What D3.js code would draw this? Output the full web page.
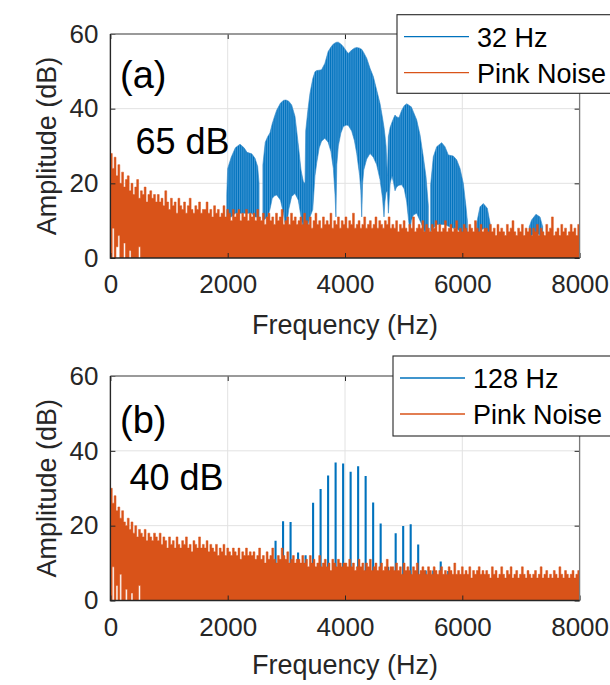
<!DOCTYPE html>
<html>
<head>
<meta charset="utf-8">
<script src="https://cdn.jsdelivr.net/npm/d3@7"></script>
<style>
  body { margin: 0; background: #fff; }
  text { font-family: "Liberation Sans", Arial, Helvetica, sans-serif; }
</style>
</head>
<body>
<svg id="chart" width="610" height="685"></svg>
<script>
// ---------------- DATA ----------------
const xTicks = [0, 2000, 4000, 6000, 8000];
const yTicks = [0, 20, 40, 60];
const legendA = ["32 Hz", "Pink Noise"];
const legendB = ["128 Hz", "Pink Noise"];
const panelTags = ["(a)", "(b)"];
const levelTags = ["65 dB", "40 dB"];
const noiseBinHz = 32;     // width of one pink-noise frequency bin
const harmonicHz = 32;     // spacing of the 32 Hz harmonics (stripe period)

// Pink noise amplitude (dB) per 32 Hz bin, panel (a)
const pinkNoiseA = [
  28,24,27,22,25,20,23,19,21,22,18,20,17,19,21,16,18,17,19,15,17,18,16,17,15,
  17,15,16,14,18,15,13,16,14,15,12,16,14,13,15,12,14,16,13,12,14,13,15,12,13,
  13,15,12,13,11,14,12,13,11,12,14,11,13,12,10,13,11,12,13,10,12,11,13,10,12,
  11,12,10,13,11,10,12,9,11,12,10,11,9,12,10,11,13,9,10,11,9,12,10,11,9,
  10,11,9,12,10,9,11,8,10,12,9,10,8,11,9,10,9,12,8,10,9,11,8,10,9,
  11,8,10,9,12,8,9,10,8,9,11,8,9,10,8,9,11,8,10,9,8,10,9,11,8,
  9,8,10,7,9,8,10,8,7,9,8,11,7,8,9,8,10,7,9,8,7,9,8,10,7,
  9,7,8,10,7,8,9,7,8,10,7,8,7,9,8,7,9,8,7,10,8,7,9,7,8,
  8,7,9,7,8,6,9,7,8,7,6,9,7,8,10,7,6,8,7,9,6,8,7,8,6,
  8,7,9,6,8,7,6,9,7,8,11,6,7,8,6,9,7,8,6,7,9,7,8,6,9
];
// lowest level reached inside the first bins (white gaps near 0 Hz), panel (a)
const pinkNoiseLowA = [0,8,0,3,6,0,0,4,0,0,2,0,0,0,0,3];

// Pink noise amplitude (dB) per 32 Hz bin, panel (b)
const pinkNoiseB = [
  30,26,28,24,25,22,24,21,20,22,19,21,18,20,17,19,18,17,19,16,18,17,16,18,17,
  16,18,15,17,16,14,17,15,16,14,17,15,14,16,15,17,14,15,13,16,15,14,17,14,15,
  14,16,13,15,14,13,15,12,14,13,15,12,14,13,12,14,13,12,14,11,13,12,14,12,13,
  12,13,11,12,14,11,12,10,13,11,12,14,11,10,12,11,14,12,11,13,10,11,12,10,11,
  11,10,12,10,11,9,12,10,11,9,10,12,9,10,11,9,10,8,11,10,9,11,10,9,10,
  10,9,11,9,10,8,9,11,9,10,8,10,9,11,8,9,10,8,9,10,8,9,11,8,9,
  9,8,10,8,9,7,10,8,9,8,7,9,8,10,7,8,9,8,7,9,8,7,9,8,7,
  8,9,7,8,7,9,8,7,10,7,8,7,9,7,8,7,9,6,8,7,8,9,7,8,7,
  8,7,6,9,7,8,6,7,9,7,6,8,7,9,6,7,8,6,7,9,7,6,8,7,6,
  7,8,6,7,9,6,7,8,6,7,6,8,7,6,9,7,6,8,7,6,7,8,6,7,8
];
const pinkNoiseLowB = [0,9,0,4,0,7,0,0,3,0,0,2,0,0,0,4];

// 32 Hz tone, panel (a): [frequency Hz, upper envelope dB, lower envelope dB]; null = gap
const tone32 = [
  [1984,17,11],[2000,24,11],[2060,27,11],[2130,29.5,12],[2210,30.5,12],[2280,29.5,12],
  [2330,28.3,12],[2410,27.9,12],[2466,26.7,11],[2511,24.5,11],[2535,20,10], null,
  [2600,25,10],[2640,31,10.5],[2682,32.5,11],[2720,33.5,13],[2760,36,16],[2800,38,16.7],
  [2835,39.6,16.9],[2900,41.5,15.5],[2950,42.2,12],[2980,42.3,9],[2995,42.3,8],[3010,42.2,9],
  [3040,42,13],[3091,41,16.5],[3148,37.9,17.3],[3204,30.3,15.5],[3250,23.6,11],[3290,20.4,8],[3318,20,6],
  [3330,34,6],[3370,40,9],[3403,44.1,11],[3450,48,13],[3488,49.9,22],[3517,50.2,25.4],
  [3560,50.3,29.5],[3600,50.4,31.3],[3656,52.1,32.1],[3713,55.3,31],[3760,56.5,28.5],[3801,57.3,24],
  [3830,57.6,17],[3845,57.7,11],[3860,57.8,25],[3886,57.8,30],[3930,57.3,33.5],[3972,56.6,35.2],
  [4020,55.5,35.6],[4057,54.8,35.5],[4114,55.7,34],[4160,56.2,31.5],[4200,56.4,28],[4250,56.2,22],
  [4270,56,18],[4285,55.9,11],[4300,55.5,20],[4320,55,23.6],[4370,53.5,26.5],[4427,50.8,28],
  [4483,48.6,27],[4540,45,25],[4597,41.4,21],[4640,37.5,16],[4665,35,11],[4680,33,15],
  [4700,30,17.5],[4722,22,18],
  [4740,32.5,12],[4770,35,20],[4800,36.3,22],[4830,37.5,20],[4853,38.3,18],[4880,37.8,19],
  [4920,37.6,19.5],[4967,39.6,19.6],[5010,40.8,18.5],[5052,41.3,15],[5085,41,10],[5108,40.7,7],
  [5130,40.5,10],[5165,39.2,11.5],[5222,37,12],[5279,33,10],[5335,27.1,8],[5381,21.8,6],[5421,14,4], null,
  [5460,19.6,7],[5506,27.1,8],[5563,29.8,9],[5648,30.9,9],[5705,29.8,9],[5762,27.6,8.5],
  [5847,27.3,8],[5904,26.3,8],[5961,24,7],[6017,20,6],[6063,13.7,5],[6086,10,4], null,
  [6245,9.3,5],[6302,13.7,7],[6358,14.6,8],[6427,13.3,7],[6484,8.4,5], null,
  [7142,8.4,5],[7182,10.2,6],[7256,11.7,7],[7325,11,6],[7370,8.4,5]
];

// 128 Hz tone, panel (b): harmonic frequencies and peak amplitudes
const tone128Freq = [2688,2816,2944,3072,3200,3328,3456,3584,3712,3840,3968,4096,4224,
                     4352,4480,4608,4736,4864,4992,5120,5248,5376,5504,5632,5760];
const tone128Amp  = [10.8,16.0,21.2,21.0,12.8,12.1,26.1,29.8,33.4,36.9,36.6,34.4,35.9,
                     33.3,26.2,20.6,9,18.0,19.9,20.4,15.0,8,8,10.4,7.9];

// ---------------- DRAWING ----------------
const BLUE = "#0072BD", ORANGE = "#D95319", AXIS = "#262626";
const svg = d3.select("#chart");
const defs = svg.append("defs");

function drawPanel(o) {
  const x = d3.scaleLinear().domain([0, 8000]).range([110.4, 579.6]);
  const y = d3.scaleLinear().domain([0, 60]).range([o.bottom, o.top]);
  const [xl, xr] = x.range();

  defs.append("clipPath").attr("id", "clip" + o.id).append("rect")
    .attr("x", xl).attr("y", o.top).attr("width", xr - xl).attr("height", o.bottom - o.top);

  // grid
  const grid = svg.append("g").attr("stroke", "#e2e2e2").attr("stroke-width", 1);
  grid.selectAll("line.gx").data(xTicks.filter(t => t > 0 && t < 8000)).join("line")
    .attr("class", "gx").attr("x1", d => x(d)).attr("x2", d => x(d))
    .attr("y1", o.top).attr("y2", o.bottom);
  grid.selectAll("line.gy").data(yTicks.filter(t => t > 0 && t < 60)).join("line")
    .attr("class", "gy").attr("x1", xl).attr("x2", xr)
    .attr("y1", d => y(d)).attr("y2", d => y(d));

  const plot = svg.append("g").attr("clip-path", `url(#clip${o.id})`);

  // tone (blue)
  if (o.tone) {
    const pw = x(harmonicHz) - x(0);
    const pat = defs.append("pattern").attr("id", "stripe" + o.id)
      .attr("patternUnits", "userSpaceOnUse").attr("x", xl).attr("y", 0)
      .attr("width", pw).attr("height", 20);
    pat.append("rect").attr("width", pw).attr("height", 20).attr("fill", BLUE);
    pat.append("rect").attr("x", pw * 0.55).attr("width", pw * 0.32).attr("height", 20).attr("fill", "#64ABE2");
    const area = d3.area()
      .defined(d => d !== null)
      .x(d => x(d[0])).y0(d => y(d[2])).y1(d => y(d[1]));
    plot.append("path").datum(o.tone).attr("d", area)
      .attr("fill", `url(#stripe${o.id})`).attr("stroke", "#2f86c8").attr("stroke-width", 0.6);
  }
  if (o.spikeF) {
    plot.append("g").selectAll("line").data(o.spikeF).join("line")
      .attr("x1", d => x(d)).attr("x2", d => x(d))
      .attr("y1", y(0)).attr("y2", (d, i) => y(o.spikeA[i]))
      .attr("stroke", BLUE).attr("stroke-width", 2.1);
  }

  // pink noise (orange) as one stepped area, no seams between bins
  const noisePts = o.noise.map((v, i) => [i * noiseBinHz, v, o.low[i] || 0]);
  noisePts.push([o.noise.length * noiseBinHz, o.noise[o.noise.length - 1], 0]);
  const noiseArea = d3.area().curve(d3.curveStepAfter)
    .x(d => x(d[0])).y0(d => y(d[2])).y1(d => y(d[1]));
  plot.append("path").datum(noisePts).attr("d", noiseArea)
    .attr("fill", ORANGE).attr("stroke", ORANGE).attr("stroke-width", 0.5);

  // axes
  const tickStyle = g => {
    g.select(".domain").remove();
    g.selectAll(".tick line").attr("stroke", AXIS).attr("stroke-width", 1);
    g.selectAll(".tick text").attr("fill", AXIS).style("font-size", "26px");
  };
  svg.append("g").attr("transform", `translate(0,${o.bottom})`)
    .call(d3.axisBottom(x).tickValues(xTicks).tickSizeInner(-5).tickSizeOuter(0).tickPadding(17).tickFormat(d3.format("d")))
    .call(tickStyle);
  svg.append("g").attr("transform", `translate(0,${o.top})`)
    .call(d3.axisTop(x).tickValues(xTicks).tickSizeInner(-5).tickSizeOuter(0).tickFormat(""))
    .call(tickStyle);
  svg.append("g").attr("transform", `translate(${xl},0)`)
    .call(d3.axisLeft(y).tickValues(yTicks).tickSizeInner(-5).tickSizeOuter(0).tickPadding(12))
    .call(tickStyle);
  svg.append("g").attr("transform", `translate(${xr},0)`)
    .call(d3.axisRight(y).tickValues(yTicks).tickSizeInner(-5).tickSizeOuter(0).tickFormat(""))
    .call(tickStyle);

  // box
  svg.append("path").attr("d", `M${xl},${o.top}H${xr}V${o.bottom}`)
    .attr("fill", "none").attr("stroke", "#7a7a7a").attr("stroke-width", 1.3);
  svg.append("path").attr("d", `M${xl},${o.top}V${o.bottom}H${xr}`)
    .attr("fill", "none").attr("stroke", AXIS).attr("stroke-width", 1.4);

  // axis labels
  svg.append("text").attr("x", (xl + xr) / 2).attr("y", o.bottom + o.labelGap)
    .attr("text-anchor", "middle").attr("fill", AXIS).style("font-size", "27px")
    .text("Frequency (Hz)");
  svg.append("text")
    .attr("transform", `translate(56,${(o.top + o.bottom) / 2}) rotate(-90)`)
    .attr("text-anchor", "middle").attr("fill", AXIS).style("font-size", "27px")
    .text("Amplitude (dB)");

  // annotations
  svg.append("text").attr("x", 120).attr("y", o.tagY).style("font-size", "38px")
    .attr("fill", "#000").text(o.tag);
  svg.append("text").attr("x", o.levelX).attr("y", o.levelY).style("font-size", "36px")
    .attr("fill", "#000").text(o.level);

  // legend
  const lg = svg.append("g").attr("transform", `translate(${o.legX},${o.legY})`);
  lg.append("rect").attr("x", 0).attr("y", 0).attr("width", 260).attr("height", o.legH)
    .attr("fill", "#fff").attr("stroke", AXIS).attr("stroke-width", 1.1);
  const colors = [BLUE, ORANGE];
  o.legend.forEach((name, i) => {
    const ly = 22 + i * 36;
    lg.append("line").attr("x1", 7).attr("x2", 72).attr("y1", ly).attr("y2", ly)
      .attr("stroke", colors[i]).attr("stroke-width", 1.3);
    lg.append("text").attr("x", 80).attr("y", ly + 10).style("font-size", "27px")
      .attr("fill", "#000").text(name);
  });
}

drawPanel({
  id: "A", top: 34, bottom: 258, labelGap: 76,
  noise: pinkNoiseA, low: pinkNoiseLowA, tone: tone32,
  tag: panelTags[0], tagY: 88, level: levelTags[0], levelX: 135.5, levelY: 154,
  legend: legendA, legX: 397, legY: 14.7, legH: 78.6
});
drawPanel({
  id: "B", top: 376, bottom: 600.5, labelGap: 73,
  noise: pinkNoiseB, low: pinkNoiseLowB, spikeF: tone128Freq, spikeA: tone128Amp,
  tag: panelTags[1], tagY: 433, level: levelTags[1], levelX: 129.5, levelY: 490,
  legend: legendB, legX: 393, legY: 356, legH: 80
});
</script>
</body>
</html>
